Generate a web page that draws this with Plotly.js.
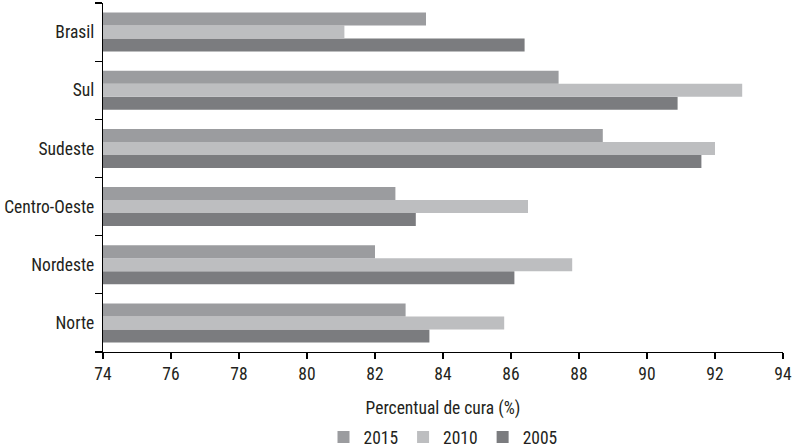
<!DOCTYPE html>
<html>
<head>
<meta charset="utf-8">
<script src="https://cdn.plot.ly/plotly-3.0.1.min.js"></script>
<style>html,body{margin:0;padding:0;background:#fff;}#chart{width:792px;height:447px;}</style>
</head>
<body>
<div id="chart"></div>
<script>
const regions = ["Brasil", "Sul", "Sudeste", "Centro-Oeste", "Nordeste", "Norte"];
const v2015 = [83.5, 87.4, 88.7, 82.6, 82.0, 82.9];
const v2010 = [81.1, 92.8, 92.0, 86.5, 87.8, 85.8];
const v2005 = [86.4, 90.9, 91.6, 83.2, 86.1, 83.6];
const xTicks = [74, 76, 78, 80, 82, 84, 86, 88, 90, 92, 94];
const FONT = '"Liberation Sans Narrow", "Roboto Condensed", "DejaVu Sans Condensed", "Arial Narrow", sans-serif';
const txt = '#231f20';
const FS = 17.5;

const mk = (name, vals, color) => ({
  type: 'bar', orientation: 'h', name: name, x: vals, y: regions,
  marker: {color: color, line: {width: 0}}, hoverinfo: 'x+y'
});
const data = [
  mk('2005', v2005, '#7b7c7f'),
  mk('2010', v2010, '#bdbec0'),
  mk('2015', v2015, '#9b9c9f')
];
const layout = {
  width: 792, height: 447,
  margin: {l: 103, r: 9, t: 3, b: 95, pad: 0, autoexpand: false},
  paper_bgcolor: '#fff', plot_bgcolor: '#fff',
  font: {family: FONT, size: FS, color: txt},
  barmode: 'group', bargap: 0.33, bargroupgap: 0,
  showlegend: true,
  legend: {orientation: 'h', x: 0.5, xanchor: 'center', yref: 'container', y: 0.022, yanchor: 'middle',
           traceorder: 'reversed', font: {family: FONT, size: FS, color: txt}, itemwidth: 30},
  xaxis: {
    range: [74, 94], tickvals: xTicks, ticktext: xTicks.map(String), automargin: false,
    ticks: 'outside', ticklen: 6, tickwidth: 1.2, tickcolor: '#000',
    showline: true, linecolor: '#000', linewidth: 1.2,
    showgrid: false, zeroline: false,
    tickfont: {family: FONT, size: FS, color: txt},
    title: {text: 'Percentual de cura (%)', font: {family: FONT, size: FS, color: txt}, standoff: 20}
  },
  yaxis: {
    type: 'category', categoryorder: 'array', categoryarray: regions.slice().reverse(), automargin: false,
    ticks: 'outside', ticklen: 7, tickwidth: 1.2, tickcolor: '#000', tickson: 'boundaries',
    ticklabelstandoff: 4,
    showline: true, linecolor: '#000', linewidth: 1.2,
    showgrid: false, zeroline: false,
    tickfont: {family: FONT, size: FS, color: txt}
  }
};
Plotly.newPlot('chart', data, layout, {displayModeBar: false, staticPlot: true});
</script>
</body>
</html>
